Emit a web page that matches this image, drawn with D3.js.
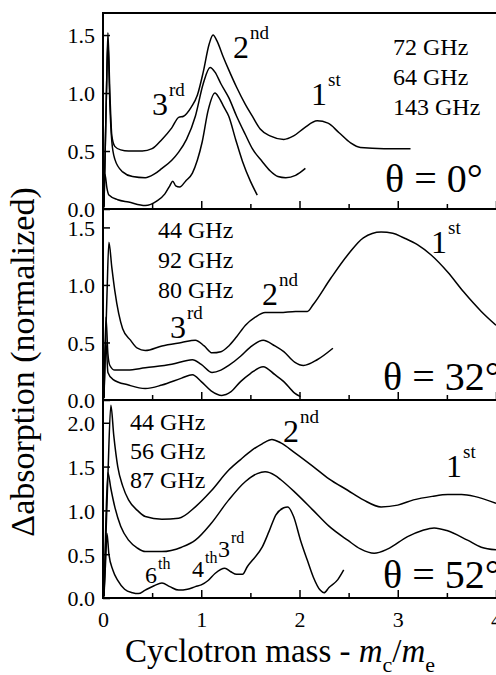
<!DOCTYPE html>
<html lang="en">
<head>
<meta charset="utf-8">
<title>Cyclotron mass</title>
<style>
  body { margin: 0; background: #fff; }
</style>
</head>
<body>
<div id="graph-div"></div>
<script src="https://d3js.org/d3.v7.min.js"></script>
<script>
// ---- data : [m_c/m_e, delta absorption] ----
var xMajor = [0, 1, 2, 3, 4];
var xMinor = [0.5, 1.5, 2.5, 3.5];

// theta = 0
var t72 = [[0.01,0.02],[0.035,1.0],[0.05,1.52],[0.07,1.0],[0.09,0.63],[0.12,0.54],[0.18,0.51],[0.26,0.5],[0.4,0.5],[0.5,0.52],[0.6,0.6],[0.7,0.7],[0.77,0.79],[0.82,0.8],[0.9,0.88],[0.96,0.98],[1.02,1.18],[1.08,1.42],[1.12,1.5],[1.16,1.45],[1.22,1.32],[1.28,1.2],[1.36,1.05],[1.45,0.9],[1.52,0.8],[1.6,0.69],[1.7,0.63],[1.84,0.6],[1.94,0.63],[2.05,0.7],[2.18,0.76],[2.29,0.74],[2.4,0.66],[2.52,0.57],[2.62,0.53],[2.86,0.52],[3.13,0.52]];
var t64 = [[0.01,0.02],[0.035,1.0],[0.05,1.45],[0.07,0.9],[0.09,0.58],[0.12,0.43],[0.2,0.32],[0.3,0.28],[0.43,0.27],[0.52,0.3],[0.6,0.35],[0.7,0.42],[0.77,0.49],[0.85,0.6],[0.94,0.8],[1.02,1.08],[1.09,1.22],[1.14,1.18],[1.2,1.08],[1.28,0.96],[1.36,0.8],[1.45,0.64],[1.52,0.52],[1.62,0.41],[1.7,0.33],[1.78,0.28],[1.86,0.27],[1.96,0.29],[2.06,0.35]];
var t143 = [[0.005,0.0],[0.02,0.3],[0.04,0.18],[0.06,0.12],[0.15,0.08],[0.26,0.06],[0.43,0.03],[0.55,0.07],[0.63,0.13],[0.68,0.2],[0.71,0.24],[0.74,0.2],[0.78,0.19],[0.84,0.24],[0.91,0.31],[0.96,0.42],[1.01,0.58],[1.07,0.85],[1.14,1.0],[1.18,0.96],[1.23,0.88],[1.28,0.8],[1.35,0.6],[1.42,0.41],[1.5,0.24],[1.57,0.12]];

// theta = 32
var m44 = [[0.01,0.02],[0.04,0.9],[0.06,1.37],[0.09,1.15],[0.12,0.95],[0.16,0.75],[0.2,0.62],[0.28,0.52],[0.35,0.45],[0.43,0.43],[0.6,0.47],[0.8,0.5],[0.94,0.52],[1.03,0.47],[1.11,0.41],[1.2,0.42],[1.28,0.47],[1.36,0.55],[1.45,0.65],[1.55,0.72],[1.65,0.76],[1.8,0.76],[1.96,0.77],[2.08,0.77],[2.14,0.83],[2.32,1.06],[2.49,1.26],[2.65,1.41],[2.83,1.46],[2.95,1.45],[3.06,1.41],[3.2,1.35],[3.34,1.26],[3.51,1.11],[3.67,0.94],[3.85,0.77],[4.0,0.65]];
var m92 = [[0.01,0.02],[0.03,0.72],[0.05,0.4],[0.07,0.3],[0.12,0.26],[0.25,0.26],[0.43,0.28],[0.7,0.31],[0.91,0.35],[1.0,0.31],[1.11,0.24],[1.2,0.26],[1.28,0.3],[1.4,0.38],[1.5,0.46],[1.63,0.52],[1.75,0.47],[1.84,0.42],[1.95,0.33],[2.04,0.3],[2.18,0.35],[2.34,0.45]];
var m80 = [[0.01,0.02],[0.03,0.5],[0.05,0.24],[0.1,0.18],[0.26,0.13],[0.43,0.1],[0.6,0.13],[0.8,0.19],[0.91,0.22],[1.0,0.16],[1.1,0.08],[1.21,0.04],[1.3,0.07],[1.4,0.16],[1.5,0.23],[1.63,0.29],[1.75,0.22],[1.84,0.16],[1.95,0.06],[2.01,0.03]];

// theta = 52
var b44 = [[0.01,0.02],[0.05,1.4],[0.08,2.2],[0.11,1.85],[0.15,1.5],[0.2,1.28],[0.26,1.12],[0.35,1.0],[0.43,0.93],[0.6,0.9],[0.77,0.91],[0.94,1.04],[1.1,1.22],[1.28,1.46],[1.4,1.58],[1.52,1.69],[1.62,1.76],[1.72,1.81],[1.81,1.77],[1.95,1.66],[2.14,1.5],[2.3,1.36],[2.49,1.23],[2.65,1.12],[2.83,1.04],[3.0,1.06],[3.16,1.12],[3.35,1.16],[3.51,1.18],[3.65,1.18],[3.78,1.16],[4.0,1.08]];
var b56 = [[0.01,0.02],[0.03,0.9],[0.05,1.43],[0.08,1.25],[0.12,1.04],[0.18,0.82],[0.26,0.66],[0.35,0.57],[0.43,0.53],[0.6,0.53],[0.8,0.58],[0.94,0.66],[1.1,0.85],[1.28,1.12],[1.45,1.33],[1.57,1.42],[1.65,1.44],[1.75,1.4],[1.81,1.35],[1.96,1.2],[2.14,1.0],[2.3,0.82],[2.49,0.66],[2.62,0.56],[2.76,0.51],[2.9,0.56],[3.1,0.7],[3.25,0.77],[3.37,0.8],[3.5,0.77],[3.71,0.66],[3.85,0.58],[4.0,0.55]];
var b87 = [[0.01,0.02],[0.03,0.5],[0.04,0.74],[0.06,0.5],[0.1,0.32],[0.15,0.2],[0.22,0.1],[0.3,0.06],[0.36,0.05],[0.43,0.09],[0.52,0.14],[0.6,0.17],[0.68,0.13],[0.77,0.09],[0.86,0.1],[0.94,0.13],[1.0,0.15],[1.07,0.2],[1.14,0.28],[1.24,0.34],[1.3,0.3],[1.36,0.27],[1.42,0.27],[1.47,0.36],[1.52,0.43],[1.62,0.58],[1.69,0.76],[1.76,0.95],[1.84,1.03],[1.88,1.04],[1.94,0.93],[2.01,0.66],[2.08,0.43],[2.14,0.24],[2.21,0.09],[2.25,0.06],[2.3,0.12],[2.39,0.21],[2.45,0.32]];

var freqs0 = ["72 GHz", "64 GHz", "143 GHz"];
var freqs32 = ["44 GHz", "92 GHz", "80 GHz"];
var freqs52 = ["44 GHz", "56 GHz", "87 GHz"];

// ---- layout ----
var W = 496, H = 675;
var svg = d3.select("#graph-div").append("svg")
    .attr("width", W).attr("height", H);

var x = d3.scaleLinear().domain([0, 4]).range([103, 496]);

var panels = [
  { y0: 209, top: 13,  yMax: 1.69, yTicks: [0, 0.5, 1, 1.5],    curves: [t72, t64, t143], last: false },
  { y0: 400, top: 209, yMax: 1.66, yTicks: [0, 0.5, 1, 1.5],    curves: [m44, m92, m80],  last: false },
  { y0: 598, top: 400, yMax: 2.26, yTicks: [0, 0.5, 1, 1.5, 2], curves: [b44, b56, b87],  last: true }
];

panels.forEach(function(p) {
  var y = d3.scaleLinear().domain([0, p.yMax]).range([p.y0, p.top]);
  var g = svg.append("g");

  var line = d3.line()
      .x(function(d) { return x(d[0]); })
      .y(function(d) { return y(d[1]); })
      .curve(d3.curveMonotoneX);

  p.curves.forEach(function(c) {
    g.append("path").datum(c)
      .attr("d", line)
      .attr("fill", "none")
      .attr("stroke", "#000")
      .attr("stroke-width", 1.5)
      .attr("stroke-linejoin", "round");
  });

  // frame (right side runs off the picture)
  g.append("rect")
    .attr("x", x(0)).attr("y", p.top)
    .attr("width", 600).attr("height", p.y0 - p.top)
    .attr("fill", "none").attr("stroke", "#000").attr("stroke-width", 2);

  // x ticks, pointing in
  var xa = g.append("g").attr("transform", "translate(0," + p.y0 + ")")
    .call(d3.axisBottom(x).tickValues(xMajor).tickSizeInner(-8).tickSizeOuter(0).tickPadding(13)
      .tickFormat(p.last ? d3.format("d") : function() { return ""; }));
  var xm = g.append("g").attr("transform", "translate(0," + p.y0 + ")")
    .call(d3.axisBottom(x).tickValues(xMinor).tickSizeInner(-5).tickSizeOuter(0).tickFormat(""));

  var ya = g.append("g").attr("transform", "translate(" + x(0) + ",0)")
    .call(d3.axisLeft(y).tickValues(p.yTicks).tickSizeInner(-7).tickSizeOuter(0).tickPadding(8)
      .tickFormat(d3.format(".1f")));

  [xa, xm, ya].forEach(function(a) {
    a.select(".domain").remove();
    a.selectAll(".tick line").attr("stroke", "#000").attr("stroke-width", 1.5);
    a.selectAll("text").attr("font-size", 22).attr("fill", "#000");
  });
  ya.selectAll("text").attr("dy", "0.36em");
});

// ---- annotations ----
function ordinal(px, py, num, sup, size, supSize) {
  var t = svg.append("text").attr("x", px).attr("y", py).attr("font-size", size)
    .style("font-family", "'Liberation Serif'").text(num);
  var w = t.node().getComputedTextLength();
  svg.append("text").attr("x", px + w + 1).attr("y", py - size * 0.6)
    .attr("font-size", supSize).text(sup);
}

function freqList(px, py, list, step, size) {
  list.forEach(function(s, i) {
    svg.append("text").attr("x", px).attr("y", py + i * step).attr("font-size", size).text(s);
  });
}

function theta(px, py, deg) {
  svg.append("text").attr("x", px).attr("y", py).attr("font-size", 40)
    .text("\u03B8 = " + deg + "\u00B0");
}

// theta = 0 panel
ordinal(152, 115, "3", "rd", 32, 19);
ordinal(233, 58, "2", "nd", 32, 19);
ordinal(311, 105, "1", "st", 32, 19);
freqList(393, 55, freqs0, 30, 24);
theta(385, 192, 0);

// theta = 32 panel
freqList(158, 238, freqs32, 30, 24);
ordinal(170, 338, "3", "rd", 32, 19);
ordinal(262, 305, "2", "nd", 32, 19);
ordinal(431, 253, "1", "st", 32, 19);
theta(383, 390, 32);

// theta = 52 panel
freqList(130, 430, freqs52, 29, 24);
ordinal(145, 583, "6", "th", 24, 16);
ordinal(192, 577, "4", "th", 24, 16);
ordinal(218, 557, "3", "rd", 24, 16);
ordinal(283, 442, "2", "nd", 32, 19);
ordinal(446, 477, "1", "st", 32, 19);
theta(383, 588, 52);

// axis titles
svg.append("text")
  .attr("transform", "translate(34,362) rotate(-90)")
  .attr("text-anchor", "middle")
  .attr("font-size", 34)
  .text("\u0394absorption (normalized)");

var xt = svg.append("text").attr("x", 125).attr("y", 662).attr("font-size", 33);
xt.append("tspan").text("Cyclotron mass - ");
xt.append("tspan").attr("font-style", "italic").text("m");
xt.append("tspan").attr("font-size", 22).attr("dy", 10).text("c");
xt.append("tspan").attr("dy", -10).text("/");
xt.append("tspan").attr("font-style", "italic").text("m");
xt.append("tspan").attr("font-size", 22).attr("dy", 10).text("e");

// serif face everywhere (axis groups carry their own sans-serif attribute)
svg.selectAll("text, g").style("font-family", "'Liberation Serif'");
</script>
</body>
</html>
